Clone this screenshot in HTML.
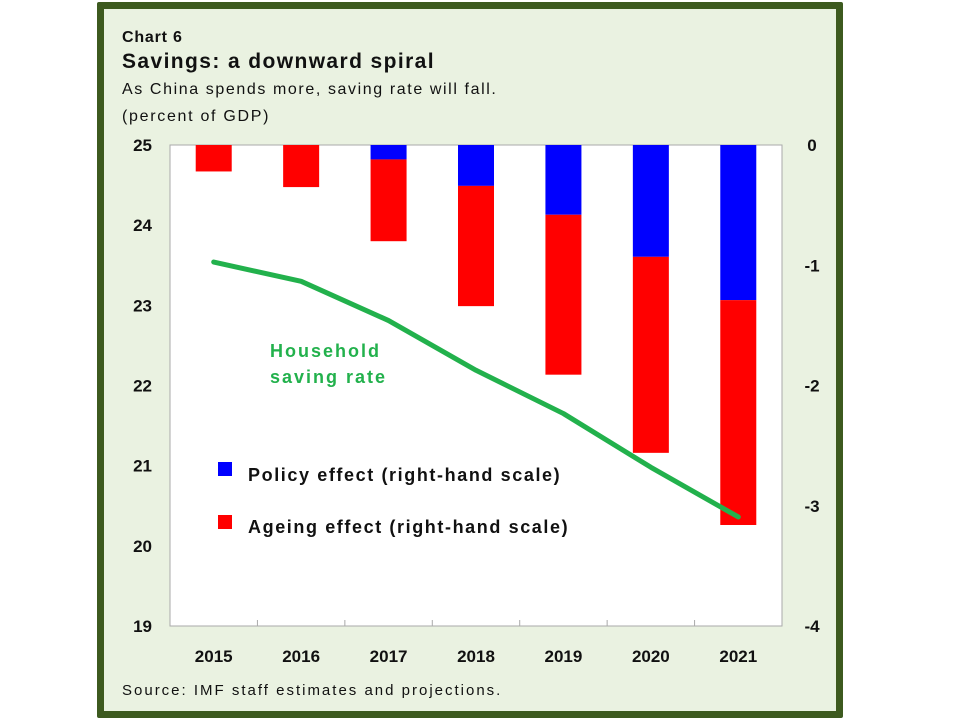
<!DOCTYPE html>
<html><head><meta charset="utf-8"><style>
body{margin:0;width:960px;height:720px;background:#fff;overflow:hidden;font-family:"Liberation Sans",Arial,sans-serif}
#frame{position:absolute;left:97px;top:2px;width:732px;height:702px;border:7px solid #3d5a1f;background:#eaf2e1;border-radius:2px}
svg{position:absolute;left:0;top:0}
</style></head><body>
<div id="frame"></div>
<svg id="c" width="960" height="720">
<text x="122" y="42" font-size="16" font-weight="bold" fill="#111" letter-spacing="0.8">Chart 6</text>
<text x="122" y="68" font-size="21" font-weight="bold" fill="#111" letter-spacing="1.4">Savings: a downward spiral</text>
<text x="122" y="94" font-size="16" fill="#111" letter-spacing="1.6">As China spends more, saving rate will fall.</text>
<text x="122" y="121" font-size="16" fill="#111" letter-spacing="1.7">(percent of GDP)</text>
<rect x="170" y="145" width="612" height="481" fill="#fff" stroke="#aaa"/>
<text x="122" y="695" font-size="15" fill="#111" letter-spacing="2">Source: IMF staff estimates and projections.</text>
<text x="270" y="357" font-size="18" font-weight="bold" fill="#22b14c" letter-spacing="2">Household</text>
<text x="270" y="383" font-size="18" font-weight="bold" fill="#22b14c" letter-spacing="2">saving rate</text>
<rect x="218" y="462" width="14" height="14" fill="#0000ff"/>
<text x="248" y="481" font-size="18" font-weight="bold" fill="#111" letter-spacing="1.6">Policy effect (right-hand scale)</text>
<rect x="218" y="515" width="14" height="14" fill="#ff0000"/>
<text x="248" y="533" font-size="18" font-weight="bold" fill="#111" letter-spacing="1.6">Ageing effect (right-hand scale)</text>
<g id="g"></g>
</svg>
<script>
const years=["2015","2016","2017","2018","2019","2020","2021"];
const policy=[0,0,-0.12,-0.34,-0.58,-0.93,-1.29];
const ageing=[-0.22,-0.35,-0.68,-1.0,-1.33,-1.63,-1.87];
const saving=[23.54,23.3,22.81,22.19,21.65,20.98,20.36];
const leftTicks=[25,24,23,22,21,20,19];
const rightTicks=[0,-1,-2,-3,-4];
const X0=170,X1=782,Y0=145,Y1=626;
const bw=(X1-X0)/years.length;
const xc=i=>X0+bw*(i+0.5);
const yL=v=>Y0+(25-v)*(Y1-Y0)/6;
const yR=v=>Y0+(0-v)*(Y1-Y0)/4;
const g=document.getElementById('g');
const NS='http://www.w3.org/2000/svg';
function mk(t,a){const e=document.createElementNS(NS,t);for(const k in a)e.setAttribute(k,a[k]);g.appendChild(e);return e;}
years.forEach((y,i)=>{
  const p=mk('rect',{x:xc(i)-18,y:yR(0),width:36,height:yR(policy[i])-yR(0),fill:'#0000ff'});
  
  
  const a=mk('rect',{x:xc(i)-18,y:yR(policy[i]),width:36,height:yR(policy[i]+ageing[i])-yR(policy[i]),fill:'#ff0000'});
  
  
  const t=mk('text',{x:xc(i),y:662,'font-size':17,'font-weight':'bold','text-anchor':'middle',fill:'#111'});
  t.textContent=y;
  
  
  if(i>0){const tk=mk('line',{x1:X0+bw*i,x2:X0+bw*i,y1:Y1,y2:Y1-6,stroke:'#aaa'});
  
  }
});
const ln=mk('polyline',{points:saving.map((v,i)=>xc(i)+','+yL(v)).join(' '),fill:'none',stroke:'#22b14c','stroke-width':5,'stroke-linejoin':'round','stroke-linecap':'round'});


leftTicks.forEach(v=>{const t=mk('text',{x:152,y:yL(v)+6,'font-size':17,'font-weight':'bold','text-anchor':'end',fill:'#111'});t.textContent=v;

});
rightTicks.forEach(v=>{const t=mk('text',{x:812,y:yR(v)+6,'font-size':17,'font-weight':'bold','text-anchor':'middle',fill:'#111'});t.textContent=v;

});
</script>
</body></html>
